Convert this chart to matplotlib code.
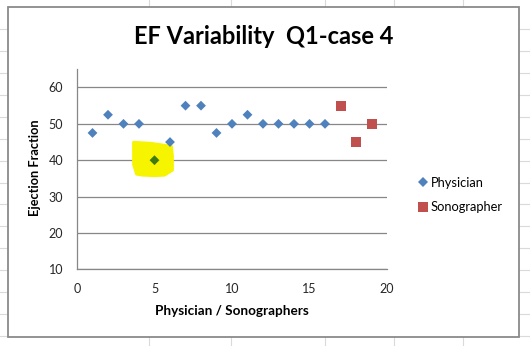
import matplotlib.pyplot as plt
from matplotlib.lines import Line2D
from matplotlib.patches import Rectangle, Polygon
from matplotlib.transforms import Affine2D, ScaledTranslation

# EF readings per reader
physician_x = [1, 2, 3, 4, 5, 6, 7, 8, 9, 10, 11, 12, 13, 14, 15, 16]
physician_ef = [47.5, 52.5, 50, 50, 40, 45, 55, 55, 47.5, 50, 52.5, 50, 50, 50, 50, 50]
sonographer_x = [17, 18, 19]
sonographer_ef = [55, 45, 50]
highlight_idx = 4  # reader 5, marked with highlighter

y_ticks = [10, 20, 30, 40, 50, 60]
x_ticks = [0, 5, 10, 15, 20]

BLUE = '#4f81bd'
RED = '#c0504d'
GREEN = '#3f7a0c'
GRID = '#878787'
FONT = 'Lato'

W, H = 530, 346
fig = plt.figure(figsize=(W / 100, H / 100), dpi=100)

def fx(px):
    return px / W

def fy(py):
    return 1 - py / H

# worksheet cells behind the chart
for x in [149, 231, 325, 394, 463]:
    fig.add_artist(Line2D([fx(x), fx(x)], [0, 1], color='#dadada', lw=0.8, zorder=0))
for k in range(15):
    y = 29 + 21.93 * k
    fig.add_artist(Line2D([0, 1], [fy(y), fy(y)], color='#dadada', lw=0.8, zorder=0))

# chart area
fig.add_artist(Rectangle((fx(8), fy(337)), fx(519) - fx(8), fy(7) - fy(337),
                         transform=fig.transFigure, facecolor='white',
                         edgecolor='#8a8a8a', lw=1.3, zorder=1))

ax = fig.add_axes([fx(77), fy(269.3), fx(387) - fx(77), fy(69.3) - fy(269.3)])
ax.set_zorder(2)
ax.patch.set_alpha(0)
ax.set_xlim(0, 20)
ax.set_ylim(10, 65)
ax.set_xticks(x_ticks)
ax.set_yticks(y_ticks)
ax.grid(axis='y', color=GRID, lw=0.9)
ax.set_axisbelow(True)
for s in ['top', 'right']:
    ax.spines[s].set_visible(False)
for s in ['left', 'bottom']:
    ax.spines[s].set_color(GRID)
    ax.spines[s].set_linewidth(0.9)
ax.tick_params(length=0, labelsize=9, labelcolor='#262626')
ax.tick_params(axis='x', pad=10)
ax.tick_params(axis='y', pad=10)
for lab in ax.get_xticklabels() + ax.get_yticklabels():
    lab.set_fontfamily(FONT)

# highlighter blob around the flagged reading (pixel offsets from the point)
blob = [(-21, 18), (-4, 17), (17, 14), (18, 4), (18, -10), (10, -15), (0, -15.5),
        (-12, -15), (-18, -14), (-21, -4)]
blob_tr = Affine2D() + ScaledTranslation(physician_x[highlight_idx],
                                         physician_ef[highlight_idx], ax.transData)
ax.add_patch(Polygon(blob, closed=True, transform=blob_tr, facecolor='#f7f400',
                     edgecolor='#f7f400', lw=2, joinstyle='round', zorder=2))

colors = [GREEN if i == highlight_idx else BLUE for i in range(len(physician_x))]
ax.scatter(physician_x, physician_ef, marker='D', s=5.0 ** 2, c=colors, zorder=3,
           linewidths=0)
ax.scatter(sonographer_x, sonographer_ef, marker='s', s=7.8 ** 2, c=RED, zorder=3,
           linewidths=0)

fig.text(fx(264), fy(36), 'EF Variability  Q1-case 4', ha='center', va='center',
         fontsize=17, fontweight='bold', family=FONT)
fig.text(fx(232), fy(311), 'Physician / Sonographers', ha='center', va='center',
         fontsize=9.7, fontweight='bold', family=FONT)
fig.text(fx(35), fy(168), 'Ejection Fraction', ha='center', va='center',
         rotation=90, fontsize=9.2, fontweight='bold', family=FONT)

handles = [Line2D([], [], ls='', marker='D', ms=5.0, color=BLUE, mew=0),
           Line2D([], [], ls='', marker='s', ms=7.8, color=RED, mew=0)]
fig.legend(handles, ['Physician', 'Sonographer'], loc='center left',
           bbox_to_anchor=(fx(412), fy(195)), frameon=False, handlelength=0.7,
           handletextpad=0.25, labelspacing=1.0, borderpad=0,
           prop={'family': FONT, 'size': 9.3})

fig.savefig('out.png', dpi=100)
